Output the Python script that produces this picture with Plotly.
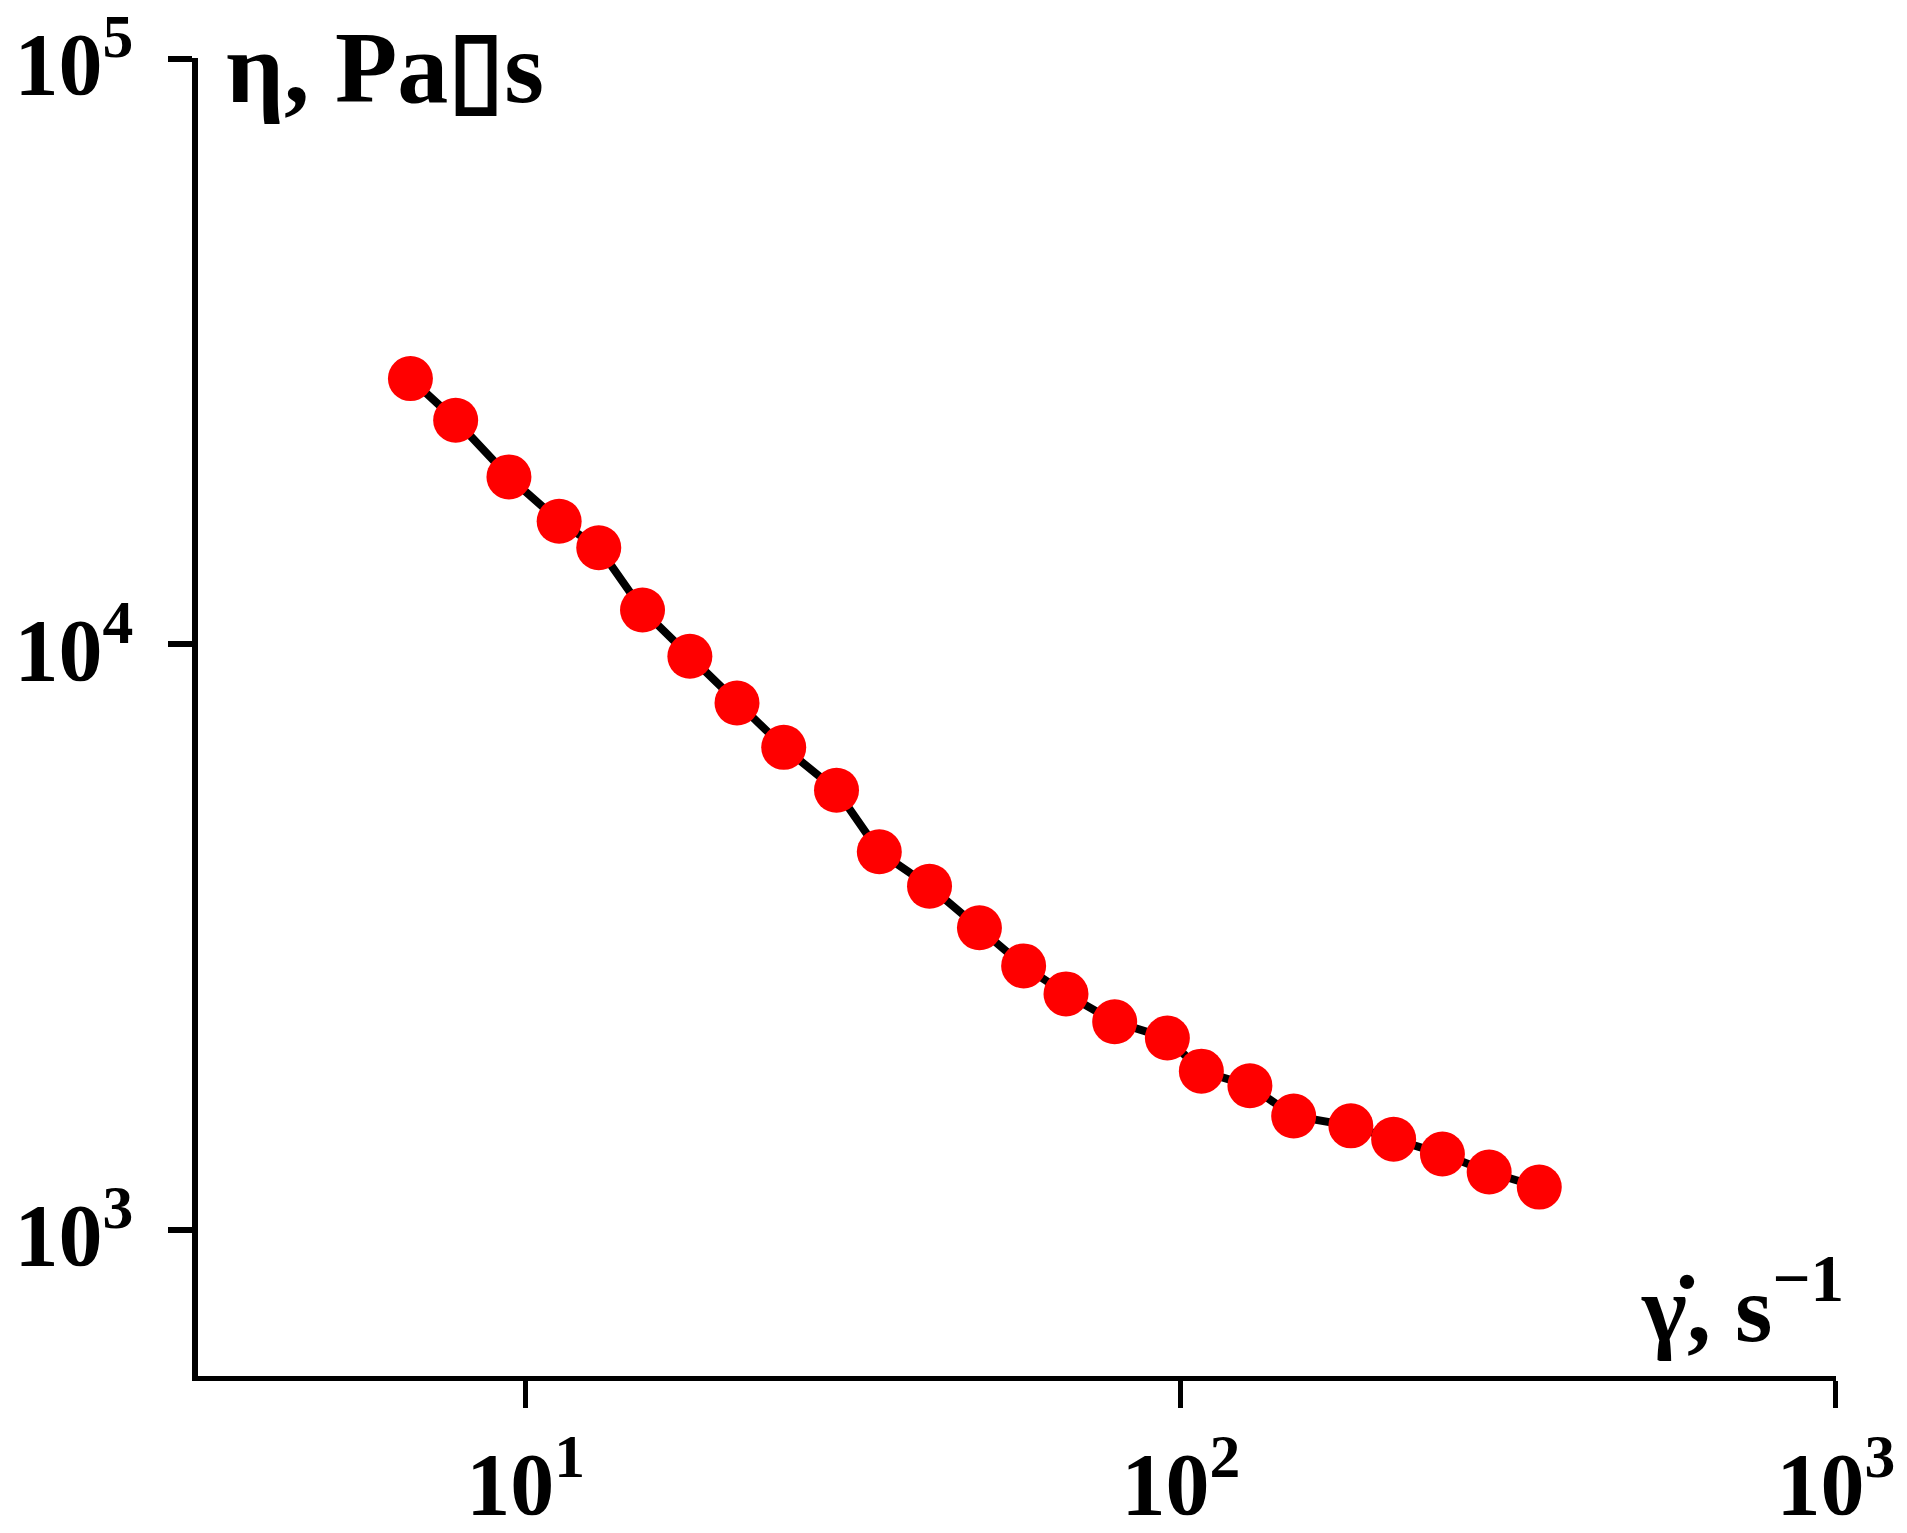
import plotly.graph_objects as go

# shear rate, 1/s
shear_rate = [6.67, 7.82, 9.43, 11.25, 12.93, 15.08, 17.81, 21.02, 24.77, 29.82,
              34.66, 41.35, 49.28, 57.56, 66.80, 79.27, 95.39, 107.5, 127.5, 148.7,
              181.8, 211.3, 250.8, 295.6, 352.5]
# viscosity, Pa*s
viscosity = [28410, 24120, 19300, 16210, 14610, 11435, 9532, 7933, 6663, 5629,
             4418, 3859, 3277, 2821, 2527, 2264, 2124, 1865, 1761, 1563,
             1504, 1427, 1346, 1254, 1182]

x_ticks = [10, 100, 1000]
x_tick_text = ["10<sup>1</sup>", "10<sup>2</sup>", "10<sup>3</sup>"]
y_ticks = [1000, 10000, 100000]
y_tick_text = ["10<sup>3</sup>", "10<sup>4</sup>", "10<sup>5</sup>"]

font = "Liberation Serif"

fig = go.Figure()
fig.add_trace(go.Scatter(
    x=shear_rate, y=viscosity, mode="lines+markers",
    line=dict(color="black", width=8),
    marker=dict(color="#ff0000", size=45, line=dict(width=0)),
    showlegend=False,
))

fig.update_xaxes(
    type="log", range=[0.4999, 3.0001],
    tickvals=x_ticks, ticktext=x_tick_text,
    showline=True, linecolor="black", linewidth=5,
    ticks="outside", ticklen=27, tickwidth=5, tickcolor="black",
    ticklabelstandoff=0, ticklabeloverflow="allow", automargin=False,
    showgrid=False, zeroline=False,
    tickfont=dict(family=font, size=88, color="black", weight="bold"),
)
fig.update_yaxes(
    type="log", range=[2.75, 5.001],
    tickvals=y_ticks, ticktext=y_tick_text,
    showline=True, linecolor="black", linewidth=6,
    ticks="outside", ticklen=24, tickwidth=6, tickcolor="black",
    ticklabelstandoff=17, ticklabelshift=5,
    ticklabeloverflow="allow", automargin=False,
    showgrid=False, zeroline=False,
    tickfont=dict(family=font, size=88, color="black", weight="bold"),
)

# axis titles placed inside the plot corners
fig.add_annotation(
    text="<b>η, Pa▯s</b>", xref="paper", yref="paper",
    x=0.016, y=1.037, xanchor="left", yanchor="top", showarrow=False,
    font=dict(family=font, size=102, color="black"),
)
fig.add_annotation(
    text="<b>γ̇, s<sup>−1</sup></b>", xref="paper", yref="paper",
    x=1.006, y=0.009, xanchor="right", yanchor="bottom", showarrow=False,
    font=dict(family=font, size=96, color="black"),
)

fig.update_layout(
    width=1907, height=1533,
    margin=dict(l=190, r=79, t=50, b=165, autoexpand=False),
    plot_bgcolor="white", paper_bgcolor="white",
)

fig.write_html("out.html")
